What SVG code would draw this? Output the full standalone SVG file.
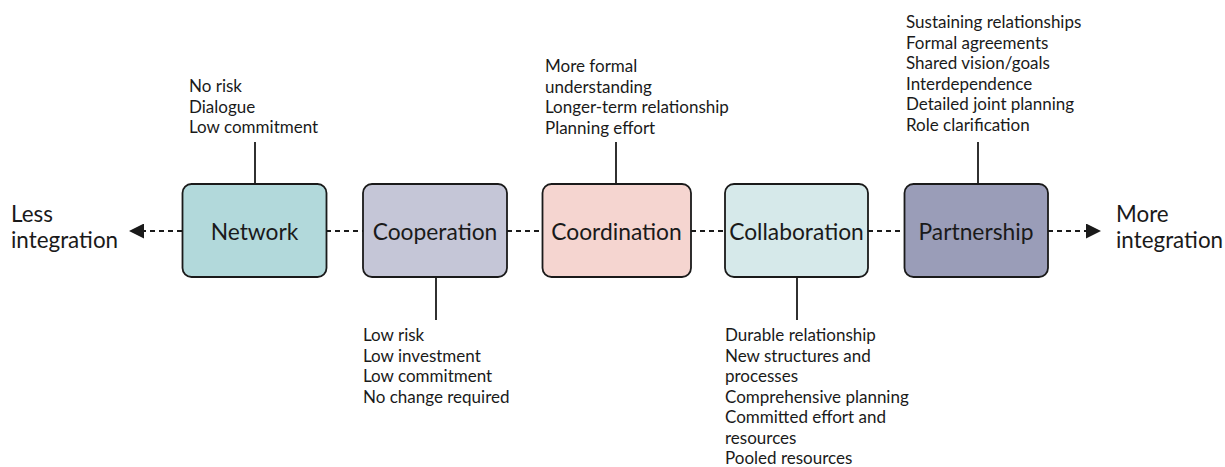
<svg xmlns="http://www.w3.org/2000/svg" width="1225" height="467" viewBox="0 0 1225 467">
<style>
.box{stroke:#1a1a1a;stroke-width:1.8}
.lbl{font-family:Lato,"Liberation Sans",sans-serif;font-size:22.8px;fill:#1a1a1a;text-anchor:middle;dominant-baseline:central}
.note{font-family:Lato,"Liberation Sans",sans-serif;font-size:17px;fill:#1a1a1a}
.end{font-family:Lato,"Liberation Sans",sans-serif;font-size:22.4px;fill:#1a1a1a}
.dash{stroke:#1a1a1a;stroke-width:2;stroke-dasharray:5 4;fill:none}
.tick{stroke:#1a1a1a;stroke-width:1.8;fill:none}
</style>
<defs>
<marker id="ah" viewBox="0 0 10 10" refX="10" refY="5" markerWidth="15" markerHeight="15" markerUnits="userSpaceOnUse" orient="auto">
<path d="M0,0 L10,5 L0,10 Z" fill="#1a1a1a"/>
</marker>
</defs>
<g id="connectors">
<line class="dash" x1="182" y1="231" x2="129" y2="231" marker-end="url(#ah)"/>
<line class="dash" x1="326" y1="231" x2="363" y2="231"/>
<line class="dash" x1="507" y1="231" x2="542" y2="231"/>
<line class="dash" x1="691" y1="231" x2="725" y2="231"/>
<line class="dash" x1="868" y1="231" x2="904" y2="231"/>
<line class="dash" x1="1048" y1="231" x2="1101" y2="231" marker-end="url(#ah)"/>
<line class="tick" x1="255" y1="142" x2="255" y2="184"/>
<line class="tick" x1="436" y1="277" x2="436" y2="320"/>
<line class="tick" x1="616" y1="142" x2="616" y2="184"/>
<line class="tick" x1="797" y1="277" x2="797" y2="320"/>
<line class="tick" x1="978" y1="142" x2="978" y2="184"/>
</g>
<g id="less">
<text class="end" x="11" y="222">Less</text>
<text class="end" x="11" y="248">integration</text>
</g>
<g id="more">
<text class="end" x="1116" y="222">More</text>
<text class="end" x="1116" y="248">integration</text>
</g>
<g id="network">
<rect class="box" x="182.5" y="184" width="144" height="93" rx="9" fill="#b2d9db"/>
<text class="lbl" x="254.5" y="231">Network</text>
<text class="note" x="189" y="92">No risk</text>
<text class="note" x="189" y="112.5">Dialogue</text>
<text class="note" x="189" y="133">Low commitment</text>
</g>
<g id="cooperation">
<rect class="box" x="363" y="184" width="144" height="93" rx="9" fill="#c5c6d7"/>
<text class="lbl" x="435" y="231">Cooperation</text>
<text class="note" x="363" y="341">Low risk</text>
<text class="note" x="363" y="361.5">Low investment</text>
<text class="note" x="363" y="382">Low commitment</text>
<text class="note" x="363" y="402.5">No change required</text>
</g>
<g id="coordination">
<rect class="box" x="542.5" y="184" width="148.5" height="93" rx="9" fill="#f5d5d0"/>
<text class="lbl" x="616.5" y="231">Coordination</text>
<text class="note" x="545" y="72">More formal</text>
<text class="note" x="545" y="92.5">understanding</text>
<text class="note" x="545" y="113">Longer-term relationship</text>
<text class="note" x="545" y="133.5">Planning effort</text>
</g>
<g id="collaboration">
<rect class="box" x="725" y="184" width="143" height="93" rx="9" fill="#d6e9ea"/>
<text class="lbl" x="796.5" y="231">Collaboration</text>
<text class="note" x="725" y="341">Durable relationship</text>
<text class="note" x="725" y="361.5">New structures and</text>
<text class="note" x="725" y="382">processes</text>
<text class="note" x="725" y="402.5">Comprehensive planning</text>
<text class="note" x="725" y="423">Committed effort and</text>
<text class="note" x="725" y="443.5">resources</text>
<text class="note" x="725" y="464">Pooled resources</text>
</g>
<g id="partnership">
<rect class="box" x="904.5" y="184" width="143.5" height="93" rx="9" fill="#9a9db8"/>
<text class="lbl" x="976" y="231">Partnership</text>
<text class="note" x="906" y="28">Sustaining relationships</text>
<text class="note" x="906" y="48.5">Formal agreements</text>
<text class="note" x="906" y="69">Shared vision/goals</text>
<text class="note" x="906" y="89.5">Interdependence</text>
<text class="note" x="906" y="110">Detailed joint planning</text>
<text class="note" x="906" y="130.5">Role clarification</text>
</g>
</svg>
